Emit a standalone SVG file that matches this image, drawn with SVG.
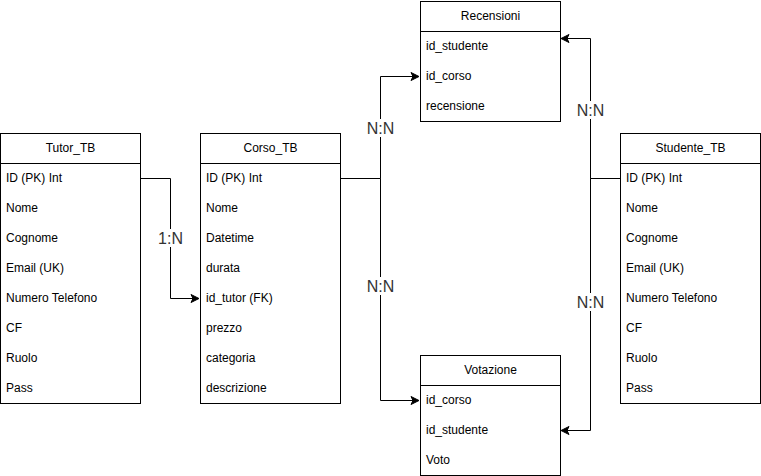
<svg xmlns="http://www.w3.org/2000/svg" width="761" height="476" viewBox="0 0 761 476">
<style>
.box{fill:#fff;stroke:#000;stroke-width:1}
.t{font-family:"Liberation Sans",Arial,sans-serif;font-size:12px;fill:#000}
.h{text-anchor:middle}
.e{fill:none;stroke:#000;stroke-width:1}
.lb{font-family:"Liberation Sans",Arial,sans-serif;font-size:16px;fill:#333;text-anchor:middle}
.bg{fill:#fff}
</style>
<defs>
<marker id="a" markerWidth="10" markerHeight="10" refX="8" refY="5" orient="auto" markerUnits="userSpaceOnUse">
<path d="M1,1 L9,5 L1,9 L3,5 Z" fill="#000" stroke="#000" stroke-width="1"/>
</marker>
</defs>
<g id="connectors">
<path class="e" d="M140.5,178.5 H170.5 V298.5 H198" marker-end="url(#a)"/>
<path class="e" d="M340.5,178.5 H380.5 V76.5 H418" marker-end="url(#a)"/>
<path class="e" d="M340.5,178.5 H380.5 V400.5 H418" marker-end="url(#a)"/>
<path class="e" d="M620.5,178.5 H590.5 V38.5 H562" marker-end="url(#a)"/>
<path class="e" d="M620.5,178.5 H590.5 V430.5 H562" marker-end="url(#a)"/>
<rect class="bg" x="158" y="229" width="25" height="18"/>
<text class="lb" x="170.5" y="244">1:N</text>
<rect class="bg" x="366" y="119" width="29" height="18"/>
<text class="lb" x="380.5" y="134">N:N</text>
<rect class="bg" x="366" y="277" width="29" height="18"/>
<text class="lb" x="380.5" y="292">N:N</text>
<rect class="bg" x="576" y="101" width="29" height="18"/>
<text class="lb" x="590.5" y="116">N:N</text>
<rect class="bg" x="576" y="293" width="29" height="18"/>
<text class="lb" x="590.5" y="308">N:N</text>
</g>
<g id="Tutor_TB">
<rect class="box" x="0.5" y="133.5" width="140" height="270"/>
<line class="e" x1="0.5" y1="163.5" x2="140.5" y2="163.5"/>
<text class="t h" x="70.5" y="152">Tutor_TB</text>
<text class="t" x="6" y="182">ID (PK) Int</text>
<text class="t" x="6" y="212">Nome</text>
<text class="t" x="6" y="242">Cognome</text>
<text class="t" x="6" y="272">Email (UK)</text>
<text class="t" x="6" y="302">Numero Telefono</text>
<text class="t" x="6" y="332">CF</text>
<text class="t" x="6" y="362">Ruolo</text>
<text class="t" x="6" y="392">Pass</text>
</g>
<g id="Corso_TB">
<rect class="box" x="200.5" y="133.5" width="140" height="270"/>
<line class="e" x1="200.5" y1="163.5" x2="340.5" y2="163.5"/>
<text class="t h" x="270.5" y="152">Corso_TB</text>
<text class="t" x="206" y="182">ID (PK) Int</text>
<text class="t" x="206" y="212">Nome</text>
<text class="t" x="206" y="242">Datetime</text>
<text class="t" x="206" y="272">durata</text>
<text class="t" x="206" y="302">id_tutor (FK)</text>
<text class="t" x="206" y="332">prezzo</text>
<text class="t" x="206" y="362">categoria</text>
<text class="t" x="206" y="392">descrizione</text>
</g>
<g id="Studente_TB">
<rect class="box" x="620.5" y="133.5" width="140" height="270"/>
<line class="e" x1="620.5" y1="163.5" x2="760.5" y2="163.5"/>
<text class="t h" x="690.5" y="152">Studente_TB</text>
<text class="t" x="626" y="182">ID (PK) Int</text>
<text class="t" x="626" y="212">Nome</text>
<text class="t" x="626" y="242">Cognome</text>
<text class="t" x="626" y="272">Email (UK)</text>
<text class="t" x="626" y="302">Numero Telefono</text>
<text class="t" x="626" y="332">CF</text>
<text class="t" x="626" y="362">Ruolo</text>
<text class="t" x="626" y="392">Pass</text>
</g>
<g id="Recensioni">
<rect class="box" x="420.5" y="1.5" width="140" height="120"/>
<line class="e" x1="420.5" y1="31.5" x2="560.5" y2="31.5"/>
<text class="t h" x="490.5" y="20">Recensioni</text>
<text class="t" x="426" y="50">id_studente</text>
<text class="t" x="426" y="80">id_corso</text>
<text class="t" x="426" y="110">recensione</text>
</g>
<g id="Votazione">
<rect class="box" x="420.5" y="355.5" width="140" height="120"/>
<line class="e" x1="420.5" y1="385.5" x2="560.5" y2="385.5"/>
<text class="t h" x="490.5" y="374">Votazione</text>
<text class="t" x="426" y="404">id_corso</text>
<text class="t" x="426" y="434">id_studente</text>
<text class="t" x="426" y="464">Voto</text>
</g>
</svg>
